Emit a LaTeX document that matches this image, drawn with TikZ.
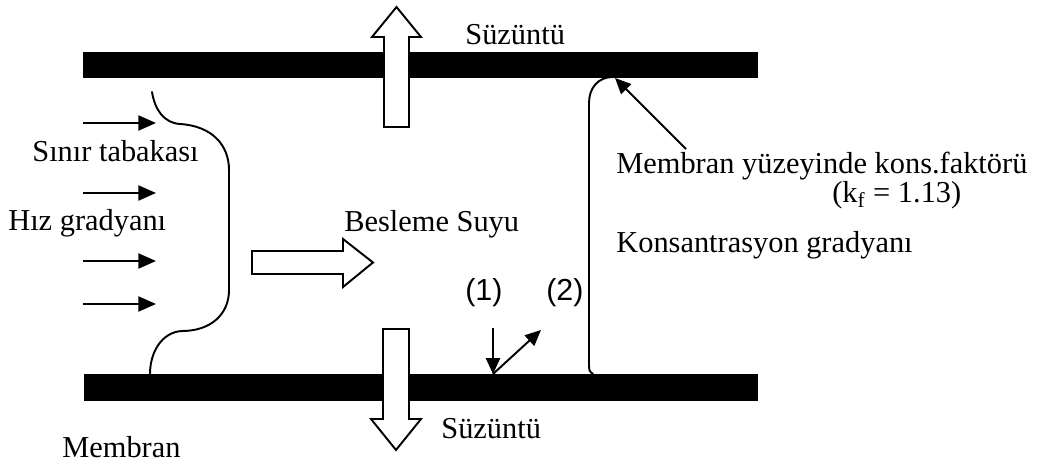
\documentclass[tikz,border=0pt]{standalone}
\usepackage{fontspec}
\setmainfont{Liberation Serif}
\newfontfamily\lblfont{Liberation Sans}
\usepackage{xcolor}
\usetikzlibrary{arrows.meta}
\definecolor{ink}{HTML}{000000}
\definecolor{paper}{HTML}{FFFFFF}
\tikzset{
  wall/.style={fill=ink, draw=none},
  prof/.style={draw=ink, line width=1.1pt, line cap=round, line join=round},
  hollow/.style={draw=ink, fill=paper, line width=1.1pt, line join=miter},
  vel/.style={draw=ink, line width=1.2pt, -{Triangle[length=10pt,width=8.5pt]}},
  ptr/.style={draw=ink, line width=1.1pt, -{Triangle[length=9pt,width=8pt]}},
  lab/.style={text=ink, font=\fontsize{17.3}{20}\selectfont, inner sep=0pt, anchor=base west},
  labsf/.style={lab, font=\fontsize{17.3}{20}\selectfont\lblfont},
}

\begin{document}
\begin{tikzpicture}[x=0.02cm, y=-0.02cm]
  \useasboundingbox (0,0) rectangle (1054,469);

  % membrane walls
  \fill[wall] (83,52) rectangle (758,78);
  \fill[wall] (84,374) rectangle (758,401);

  % permeate out, top and bottom
  \draw[hollow] (384,127) -- (384,37) -- (372,37) -- (396.5,7) -- (421,37) -- (409,37) -- (409,127) -- cycle;
  \draw[hollow] (383,329) -- (383,419) -- (371,419) -- (396,450) -- (421,419) -- (409,419) -- (409,329) -- cycle;
  % feed water
  \draw[hollow] (252,251) -- (343,251) -- (343,239) -- (373,262.5) -- (343,287) -- (343,274) -- (252,274) -- cycle;

  % velocity profile
  \draw[prof] (152,92) .. controls (155,110) and (164,123) .. (180,124)
    .. controls (212,126) and (229,145) .. (229,170) -- (229,290)
    .. controls (229,315) and (210,331) .. (182,331)
    .. controls (162,332) and (150,352) .. (150,374);
  \foreach \yy in {123,193,261,304}
    \draw[vel] (83,\yy) -- (156,\yy);

  % concentration profile
  \draw[prof] (593,374) .. controls (589,371) .. (589,362) -- (589,103)
    .. controls (589,88) and (598,77) .. (613,77);

  % labels
  \node[lab] (permtop) at (465,45) {Süzüntü};
  \node[lab] (permbot) at (441,438) {Süzüntü};
  \node[lab] (bl) at (32,162) {Sınır tabakası};
  \node[lab] (velgrad) at (8,231) {Hız gradyanı};
  \node[lab] (feed) at (344,232) {Besleme Suyu};
  \node[lab] (kfac) at (616,174) {Membran yüzeyinde kons.faktörü};
  \node[lab] (kval) at (832,203) {(k\textsubscript{f} = 1.13)};
  \node[lab] (cgrad) at (616,253) {Konsantrasyon gradyanı};
  \node[labsf] (one) at (465,300) {(1)};
  \node[labsf] (two) at (546,300) {(2)};
  \node[lab] (memb) at (62,457) {Membran};

  % arrows at the wall
  \coordinate (wallhit) at (615,78);
  \coordinate (kfoot) at (686,149);
  \draw[ptr] (kfoot) -- (wallhit);
  \coordinate (in1) at (493,328);
  \coordinate (s1) at (493,374);
  \coordinate (out2) at (541,330);
  \draw[ptr] (in1) -- (s1);
  \draw[ptr] (s1) -- (out2);
\end{tikzpicture}
\end{document}
